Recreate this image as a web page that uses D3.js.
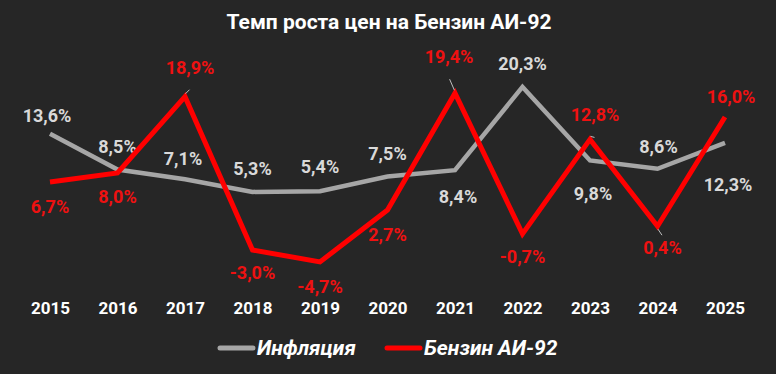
<!DOCTYPE html>
<html>
<head>
<meta charset="utf-8">
<script src="https://cdn.jsdelivr.net/npm/d3@7"></script>
<style>
  html, body { margin: 0; padding: 0; background: #262626; }
  svg text { font-family: Roboto, "Noto Sans", sans-serif; font-weight: bold; }
</style>
</head>
<body>
<div id="chart"></div>
<script>
// chart data
const years = ["2015", "2016", "2017", "2018", "2019", "2020", "2021", "2022", "2023", "2024", "2025"];
const inflation = [13.6, 8.5, 7.1, 5.3, 5.4, 7.5, 8.4, 20.3, 9.8, 8.6, 12.3];
const petrol = [6.7, 8.0, 18.9, -3.0, -4.7, 2.7, 19.4, -0.7, 12.8, 0.4, 16.0];
const seriesNames = ["Инфляция", "Бензин АИ-92"];
const title = "Темп роста цен на Бензин АИ-92";

// label placement (offsets from the point, px) - layout only
const inflLabelOff = [[-3,-12],[0,-17],[-2,-14],[0,-17],[0,-18],[0,-17],[3,33],[0,-17],[3,40],[1,-16],[3,48]];
const petrolLabelOff = [[0,31],[0,30],[5,-23],[0,29],[0,31],[0,31],[-6,-30],[0,29],[5,-18],[5,28],[6,-14]];
const petrolLeaders = [2, 6, 8, 9];

const W = 776, H = 374;
const margin = { left: 50, right: 51 };

const svg = d3.select("#chart").append("svg")
	.attr("width", W)
	.attr("height", H);

svg.append("rect").attr("width", W).attr("height", H).attr("fill", "#262626");

// scales
const x = d3.scalePoint()
	.domain(years)
	.range([margin.left, W - margin.right]);

const y = d3.scaleLinear()
	.domain([-6, 22])
	.range([271, 75]);

// title
svg.append("text")
	.attr("x", W / 2 + 1)
	.attr("y", 29)
	.attr("text-anchor", "middle")
	.attr("fill", "#ffffff")
	.style("font-size", "21px")
	.text(title);

// x axis labels only
const xAxis = d3.axisBottom(x).tickSize(0).tickPadding(0);
const gx = svg.append("g")
	.attr("transform", "translate(0,302)")
	.call(xAxis);
gx.select(".domain").remove();
gx.selectAll("text")
	.attr("fill", "#ffffff")
	.attr("dy", "0.71em")
	.style("font-family", "Roboto, sans-serif")
	.style("font-size", "17px");

const line = d3.line()
	.x((d, i) => x(years[i]))
	.y(d => y(d));

function drawSeries(values, color, width, labelColor, offsets, leaders) {
	svg.append("path")
		.datum(values)
		.attr("fill", "none")
		.attr("stroke", color)
		.attr("stroke-width", width)
		.attr("stroke-linejoin", "miter")
		.attr("d", line);

	const g = svg.append("g");
	// leader lines
	g.selectAll("line")
		.data(leaders)
		.join("line")
		.attr("x1", i => x(years[i]) + offsets[i][0] * 0.1)
		.attr("y1", i => y(values[i]) + (offsets[i][1] < 0 ? -3 : 3))
		.attr("x2", i => x(years[i]) + offsets[i][0] * 0.9)
		.attr("y2", i => y(values[i]) + (offsets[i][1] < 0 ? offsets[i][1] + 16 : offsets[i][1] - 19))
		.attr("stroke", "#bfbfbf")
		.attr("stroke-width", 1);

	g.selectAll("text")
		.data(values)
		.join("text")
		.attr("x", (d, i) => x(years[i]) + offsets[i][0])
		.attr("y", (d, i) => y(d) + offsets[i][1])
		.attr("text-anchor", "middle")
		.attr("fill", labelColor)
		.style("font-size", "18px")
		.text(d => d3.format(".1f")(d).replace(".", ",").replace("−", "-") + "%");
}

drawSeries(inflation, "#a6a6a6", 4.5, "#d9d9d9", inflLabelOff, []);
drawSeries(petrol, "#ff0000", 5, "#ee1111", petrolLabelOff, petrolLeaders);

// legend
const legend = svg.append("g").attr("transform", "translate(0,348)");
const legendItems = [
	{ name: seriesNames[0], color: "#a6a6a6", x: 220 },
	{ name: seriesNames[1], color: "#ff0000", x: 387 }
];
legendItems.forEach(it => {
	legend.append("line")
		.attr("x1", it.x).attr("x2", it.x + 33)
		.attr("y1", 0).attr("y2", 0)
		.attr("stroke", it.color)
		.attr("stroke-width", 5)
		.attr("stroke-linecap", "round");
	legend.append("text")
		.attr("x", it.x + 37)
		.attr("y", 7)
		.attr("fill", "#ffffff")
		.style("font-size", "21px")
		.style("font-style", "italic")
		.text(it.name);
});
</script>
</body>
</html>
